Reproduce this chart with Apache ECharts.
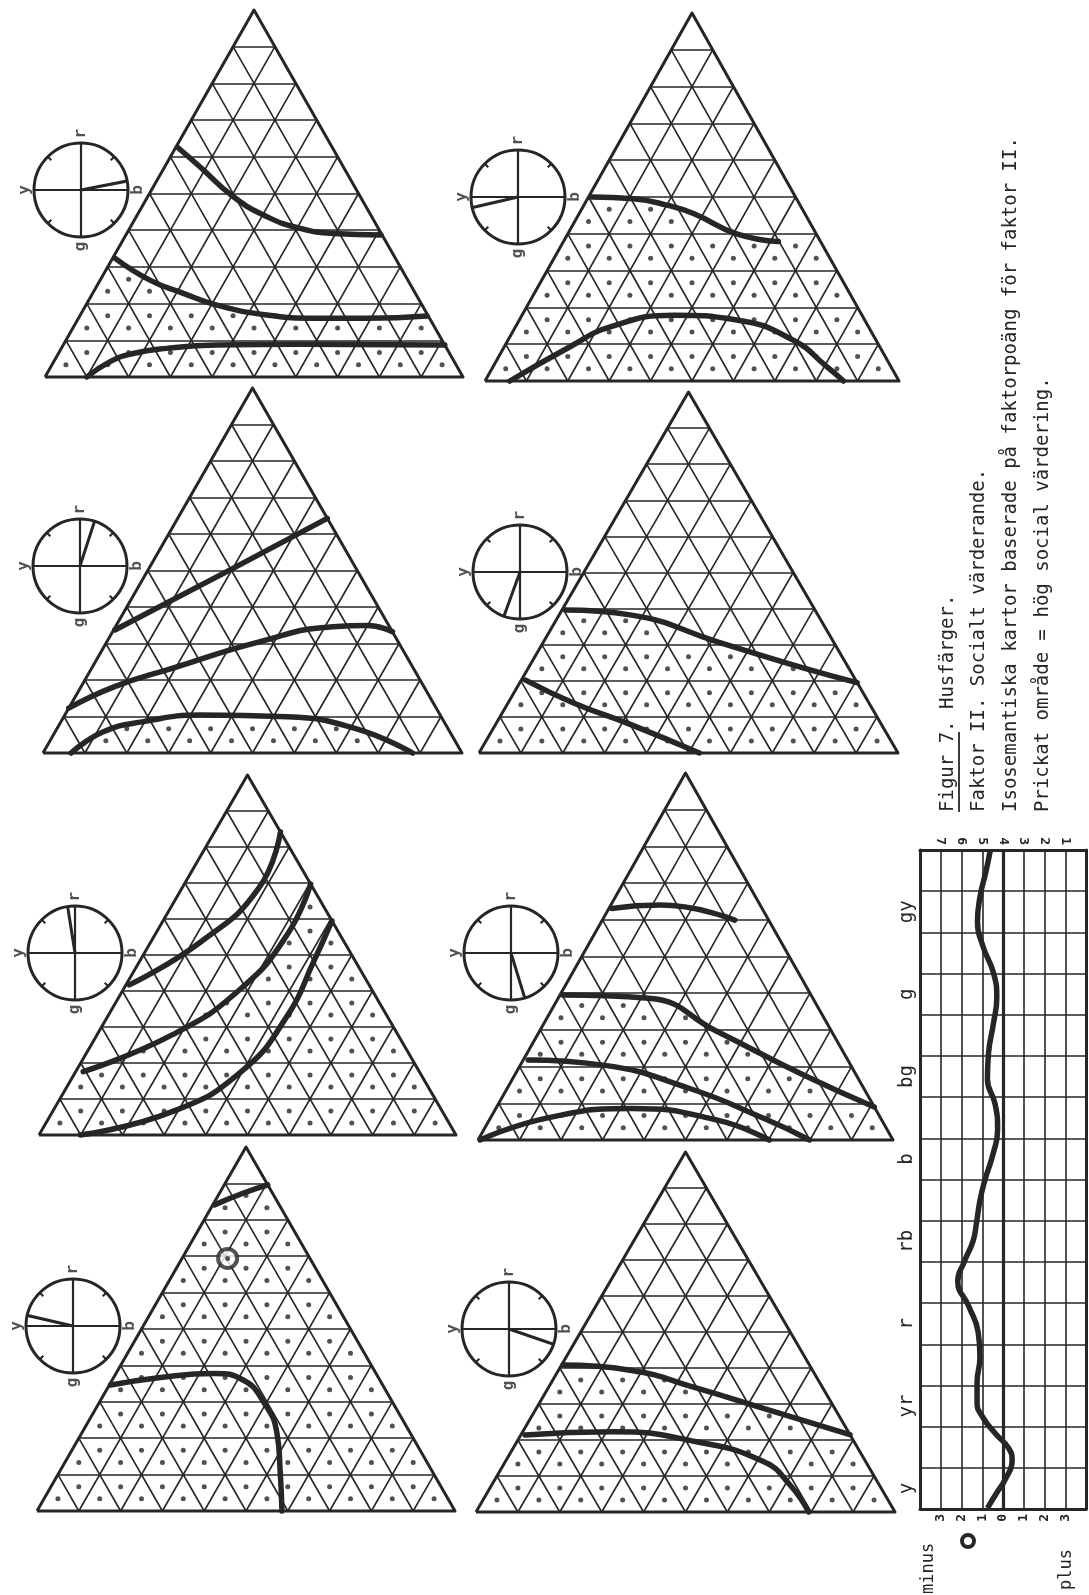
<!DOCTYPE html>
<html>
<head>
<meta charset="utf-8">
<title>Figur 7. Husfärger</title>
<script src="https://cdn.jsdelivr.net/npm/echarts@6/dist/echarts.min.js"></script>
<style>
  html, body { margin: 0; padding: 0; background: #ffffff; }
  #chart { width: 1089px; height: 1595px; }
</style>
</head>
<body>
<div id="chart"></div>
<script>
// ---------------------------------------------------------------------------
// Isosemantic maps, one per hue. Isoline points are ternary coordinates
// [blackness s, chromaticness c] (0..1); whiteness is 1 - s - c.
// ---------------------------------------------------------------------------
const panel1Lines = [
  [[0.007, 0.624], [0.084, 0.573], [0.204, 0.492], [0.312, 0.437], [0.408, 0.405], [0.494, 0.391], [0.610, 0.387]],
  [[0.005, 0.324], [0.119, 0.264], [0.217, 0.228], [0.313, 0.196], [0.446, 0.169], [0.570, 0.160], [0.690, 0.160], [0.831, 0.166]],
  [[0.100, 0.000], [0.135, 0.042], [0.179, 0.064], [0.252, 0.078], [0.367, 0.087], [0.566, 0.089], [0.913, 0.087]]
];
const panel2Lines = [
  [[0.008, 0.500], [0.111, 0.495], [0.200, 0.478], [0.276, 0.455], [0.408, 0.400], [0.519, 0.379]],
  [[0.060, 0.000], [0.159, 0.093], [0.229, 0.147], [0.366, 0.179], [0.525, 0.166], [0.689, 0.111], [0.806, 0.039], [0.866, 0.000]]
];
const panel3Lines = [
  [[0.003, 0.337], [0.195, 0.501], [0.357, 0.643]],
  [[0.000, 0.123], [0.080, 0.182], [0.192, 0.232], [0.362, 0.304], [0.519, 0.346], [0.600, 0.349], [0.668, 0.332]],
  [[0.067, 0.000], [0.115, 0.058], [0.197, 0.086], [0.325, 0.104], [0.533, 0.099], [0.713, 0.067], [0.882, 0.000]]
];
const panel4Lines = [
  [[0.008, 0.396], [0.173, 0.382], [0.415, 0.308], [0.658, 0.235], [0.805, 0.195]],
  [[0.010, 0.202], [0.158, 0.138], [0.325, 0.078], [0.526, 0.000]]
];
const panel5Lines = [
  [[0.008, 0.417], [0.120, 0.537], [0.184, 0.685], [0.158, 0.842]],
  [[0.018, 0.176], [0.180, 0.278], [0.281, 0.407], [0.317, 0.556], [0.303, 0.697]],
  [[0.099, 0.000], [0.287, 0.065], [0.397, 0.176], [0.430, 0.333], [0.418, 0.480], [0.405, 0.595]]
];
const panel6Lines = [
  [[0.006, 0.631], [0.119, 0.640], [0.319, 0.599]],
  [[0.006, 0.395], [0.218, 0.386], [0.430, 0.295], [0.696, 0.177], [0.910, 0.090]],
  [[0.012, 0.218], [0.199, 0.204], [0.438, 0.141], [0.659, 0.059], [0.799, 0.000]],
  [[0.005, 0.000], [0.133, 0.059], [0.327, 0.086], [0.550, 0.054], [0.702, 0.000]]
];
const panel7Lines = [
  [[0.004, 0.841], [0.056, 0.873], [0.104, 0.896]],
  [[0.003, 0.346], [0.112, 0.367], [0.235, 0.378], [0.313, 0.360], [0.396, 0.296], [0.467, 0.214], [0.530, 0.104], [0.586, 0.000]]
];
const panel8Lines = [
  [[0.004, 0.408], [0.171, 0.394], [0.355, 0.344], [0.542, 0.288], [0.785, 0.215]],
  [[0.010, 0.214], [0.216, 0.223], [0.429, 0.195], [0.616, 0.140], [0.712, 0.075], [0.794, 0.000]]
];
const panelLines = [panel1Lines, panel2Lines, panel3Lines, panel4Lines,
                    panel5Lines, panel6Lines, panel7Lines, panel8Lines];

// Which isoline of each panel bounds the dotted (high social value) area;
// the dotted side lies below that line.
const dottedBoundary = [1, 0, 2, 0, 1, 1, 0, 0];

// Hue direction in the colour circle of each panel (degrees, b = 0, r = 90, y = 180, g = 270)
const hueAngles = [11, 193, 72, 250, 99, 287, 167, 341];
const compassLabels = [['r', 90], ['b', 0], ['g', 270], ['y', 180]];

// Marked sample in panel 7, ternary [s, c]
const markedSample = [0.109, 0.694];

// Factor score profile along the hue circle (position in grid rows, score)
const hueAxisLabels = ['y', '', 'yr', '', 'r', '', 'rb', '', 'b', '', 'bg', '', 'g', '', 'gy', ''];
const huePosition = [0.02, 0.37, 0.74, 1.17, 1.47, 1.84, 2.21, 2.58, 3.07, 3.69, 4.30, 4.91, 5.53, 6.02,
                     6.51, 6.94, 7.49, 7.99, 8.60, 9.21, 9.83, 10.44, 11.06, 11.79, 12.41, 13.02,
                     13.64, 14.25, 14.86, 15.48, 15.97];
const factorScore = [-0.75, -0.33, 0.13, 0.44, 0.28, -0.38, -0.95, -1.25, -1.25, -1.11, -1.20, -1.64,
                     -2.18, -1.85, -1.44, -1.28, -1.11, -0.87, -0.49, -0.26, -0.38, -0.75, -0.70,
                     -0.46, -0.30, -0.46, -0.95, -1.23, -1.11, -0.82, -0.62];
const scoreTicks = [-3, -2, -1, 0, 1, 2, 3];
const scaleTicks = ['7', '6', '5', '4', '3', '2', '1'];

const captionLines = [
  'Figur 7. Husfärger.',
  'Faktor II. Socialt värderande.',
  'Isosemantiska kartor baserade på faktorpoäng för faktor II.',
  'Prickat område = hög social värdering.'
];

// ---------------------------------------------------------------------------
// Layout (pixels)
// ---------------------------------------------------------------------------
const panelBoxes = [
  [45, 10, 418, 367], [485, 13, 414, 368],
  [43, 388, 419, 365], [479, 392, 419, 361],
  [39, 775, 417, 360], [478, 773, 415, 367],
  [37, 1147, 418, 364], [476, 1152, 419, 360]
];
const circleCenters = [[81, 190], [518, 197], [80, 566], [520, 572],
                       [75, 953], [511, 953], [73, 1326], [509, 1329]];
const circleRadius = 47;
const profileBox = [920, 850, 166, 659];

const ink = '#262626';
const mono = '"DejaVu Sans Mono", "Liberation Mono", monospace';

// ternary [s, c] -> triangle plane [x, y] with apex at (0.5, 1)
const toPlane = p => [p[0] + p[1] / 2, p[1]];

function triangleMesh() {
  const segs = [];
  for (let k = 1; k < 10; k++) {
    const t = k / 10;
    segs.push({ coords: [[t / 2, t], [1 - t / 2, t]] });
    segs.push({ coords: [[t, 0], [t + (1 - t) / 2, 1 - t]] });
    segs.push({ coords: [[1 - t, 0], [(1 - t) / 2, 1 - t]] });
  }
  return segs;
}

function cellCentres() {
  const pts = [];
  for (let i = 0; i < 10; i++) {
    for (let j = 0; j < 10 - i; j++) pts.push([i / 20 + j / 10 + 0.05, (i + 1 / 3) / 10]);
    for (let j = 0; j < 9 - i; j++) pts.push([(i + 1) / 20 + j / 10 + 0.05, (i + 2 / 3) / 10]);
  }
  return pts;
}

function levelAt(poly, x) {
  if (x <= poly[0][0]) return poly[0][1];
  for (let k = 1; k < poly.length; k++) {
    if (x <= poly[k][0]) {
      const t = (x - poly[k - 1][0]) / (poly[k][0] - poly[k - 1][0]);
      return poly[k - 1][1] + t * (poly[k][1] - poly[k - 1][1]);
    }
  }
  return poly[poly.length - 1][1];
}

const grid = [], xAxis = [], yAxis = [], polar = [], angleAxis = [], radiusAxis = [], series = [];
const mesh = triangleMesh();
const centres = cellCentres();

panelBoxes.forEach((box, i) => {
  grid.push({ left: box[0], top: box[1], width: box[2], height: box[3] });
  xAxis.push({ type: 'value', gridIndex: i, min: 0, max: 1, show: false });
  yAxis.push({ type: 'value', gridIndex: i, min: 0, max: 1, show: false });

  // triangle mesh
  series.push({
    type: 'lines', coordinateSystem: 'cartesian2d', xAxisIndex: i, yAxisIndex: i,
    data: mesh, silent: true, z: 1,
    lineStyle: { color: ink, width: 1.6, opacity: 1, curveness: 0 }
  });
  // triangle outline
  series.push({
    type: 'line', xAxisIndex: i, yAxisIndex: i, clip: false, silent: true, z: 2,
    symbol: 'none', data: [[0, 0], [1, 0], [0.5, 1], [0, 0]],
    lineStyle: { color: ink, width: 3, join: 'round' }
  });
  // dotted area
  const boundary = panelLines[i][dottedBoundary[i]].map(toPlane);
  series.push({
    type: 'scatter', xAxisIndex: i, yAxisIndex: i, clip: false, silent: true, z: 3,
    symbolSize: 5, itemStyle: { color: ink },
    data: centres.filter(p => p[1] < levelAt(boundary, p[0]))
  });
  // isolines
  panelLines[i].forEach(line => {
    series.push({
      type: 'line', xAxisIndex: i, yAxisIndex: i, clip: false, silent: true, z: 4,
      symbol: 'none', smooth: 0.5, data: line.map(toPlane),
      lineStyle: { color: ink, width: 5.5, cap: 'round' }
    });
  });

  // colour circle with hue direction
  polar.push({ center: circleCenters[i], radius: circleRadius });
  angleAxis.push({
    polarIndex: i, type: 'value', min: 0, max: 360, interval: 90,
    startAngle: 0, clockwise: false,
    axisLine: { show: true, lineStyle: { color: ink, width: 3 } },
    axisTick: { show: false, inside: true },
    minorTick: { show: true, splitNumber: 2, length: 5, lineStyle: { color: ink, width: 2 } },
    axisLabel: { show: false },
    splitLine: { show: true, lineStyle: { color: ink, width: 2.2 } }
  });
  radiusAxis.push({ polarIndex: i, type: 'value', min: 0, max: 1, show: false });
  series.push({
    type: 'line', coordinateSystem: 'polar', polarIndex: i, clip: false, silent: true,
    symbol: 'none', data: [[0, hueAngles[i]], [1.3, hueAngles[i]]],
    lineStyle: { color: ink, width: 3 }
  });
  series.push({
    type: 'scatter', coordinateSystem: 'polar', polarIndex: i, clip: false, silent: true,
    symbolSize: 1, itemStyle: { color: 'rgba(0,0,0,0)' },
    data: compassLabels.map(d => ({ name: d[0], value: [1.2, d[1]] })),
    label: {
      show: true, position: 'inside', formatter: '{b}', rotate: 90,
      fontFamily: mono, fontSize: 16, fontWeight: 'bold', color: ink
    }
  });
});

// marked sample in panel 7
series.push({
  type: 'scatter', xAxisIndex: 6, yAxisIndex: 6, clip: false, silent: true, z: 5,
  symbolSize: 19, data: [toPlane(markedSample)],
  itemStyle: { color: '#ffffff', borderColor: ink, borderWidth: 4 }
});
series.push({
  type: 'scatter', xAxisIndex: 6, yAxisIndex: 6, clip: false, silent: true, z: 6,
  symbolSize: 5, data: [toPlane(markedSample)], itemStyle: { color: ink }
});

// ---------------------------------------------------------------------------
// Factor score profile around the hue circle
// ---------------------------------------------------------------------------
const pg = 8;
grid.push({ left: profileBox[0], top: profileBox[1], width: profileBox[2], height: profileBox[3] });
const tickLabelStyle = { rotate: 90, fontFamily: mono, fontSize: 13, fontWeight: 'bold', color: ink, margin: 5 };
xAxis.push({
  type: 'value', gridIndex: pg, min: -4, max: 4, interval: 1, position: 'bottom',
  axisLine: { show: true, onZero: false, lineStyle: { color: ink, width: 3 } },
  axisTick: { show: false },
  splitLine: { show: true, lineStyle: { color: ink, width: 1.6 } },
  axisLabel: Object.assign({}, tickLabelStyle, {
    formatter: v => { const k = scoreTicks.indexOf(v); return k < 0 ? '' : String(Math.abs(scoreTicks[k])); }
  })
});
xAxis.push({
  type: 'value', gridIndex: pg, min: -4, max: 4, interval: 1, position: 'top',
  axisLine: { show: true, onZero: false, lineStyle: { color: ink, width: 3 } },
  axisTick: { show: false }, splitLine: { show: false },
  axisLabel: Object.assign({}, tickLabelStyle, {
    formatter: v => { const k = scoreTicks.indexOf(v); return k < 0 ? '' : scaleTicks[k]; }
  })
});
yAxis.push({
  type: 'value', gridIndex: pg, min: 0, max: 16, interval: 1, position: 'left',
  axisLine: { show: true, onZero: false, lineStyle: { color: ink, width: 3 } },
  axisTick: { show: false }, axisLabel: { show: false },
  splitLine: { show: true, lineStyle: { color: ink, width: 1.6 } }
});
yAxis.push({
  type: 'category', gridIndex: pg, data: hueAxisLabels, position: 'left', boundaryGap: true,
  axisLine: { show: false }, axisTick: { show: false }, splitLine: { show: false },
  axisLabel: { interval: 0, rotate: 90, fontFamily: mono, fontSize: 19, color: ink, margin: 3 }
});
yAxis.push({
  type: 'value', gridIndex: pg, min: 0, max: 16, interval: 1, position: 'right',
  axisLine: { show: true, onZero: false, lineStyle: { color: ink, width: 3 } },
  axisTick: { show: false }, axisLabel: { show: false }, splitLine: { show: false }
});
series.push({
  type: 'line', xAxisIndex: pg, yAxisIndex: pg, clip: false, silent: true, z: 5,
  symbol: 'none', smooth: 0.5,
  data: huePosition.map((p, k) => [factorScore[k], p]),
  lineStyle: { color: ink, width: 5.5 },
  markLine: {
    silent: true, symbol: 'none', label: { show: false },
    lineStyle: { color: ink, width: 3.2, type: 'solid' },
    data: [{ xAxis: 0 }]
  }
});

// ---------------------------------------------------------------------------
// Caption and scale words (vertical text)
// ---------------------------------------------------------------------------
const vertical = (text, x, y, size, extra) => Object.assign({
  type: 'text', x: x, y: y, rotation: Math.PI / 2, silent: true,
  style: { text: text, font: size + 'px ' + mono, fill: ink, align: 'left', verticalAlign: 'middle' }
}, extra || {});

const captionX = [948, 979, 1011, 1043];
const graphics = captionLines.map((t, k) => vertical(t, captionX[k], 812, 19));
graphics.push({
  type: 'line', silent: true,
  shape: { x1: 959, y1: 812, x2: 959, y2: 732 },
  style: { stroke: ink, lineWidth: 1.8 }
});
graphics.push(vertical('minus', 929, 1594, 17));
graphics.push(vertical('plus', 1067, 1590, 17));
graphics.push({
  type: 'circle', silent: true,
  shape: { cx: 968, cy: 1541, r: 6 },
  style: { fill: 'none', stroke: ink, lineWidth: 4 }
});

const chart = echarts.init(document.getElementById('chart'), null, { renderer: 'canvas' });
chart.setOption({
  backgroundColor: '#ffffff',
  animation: false,
  grid, xAxis, yAxis, polar, angleAxis, radiusAxis, series,
  graphic: { elements: graphics }
});
</script>
</body>
</html>
